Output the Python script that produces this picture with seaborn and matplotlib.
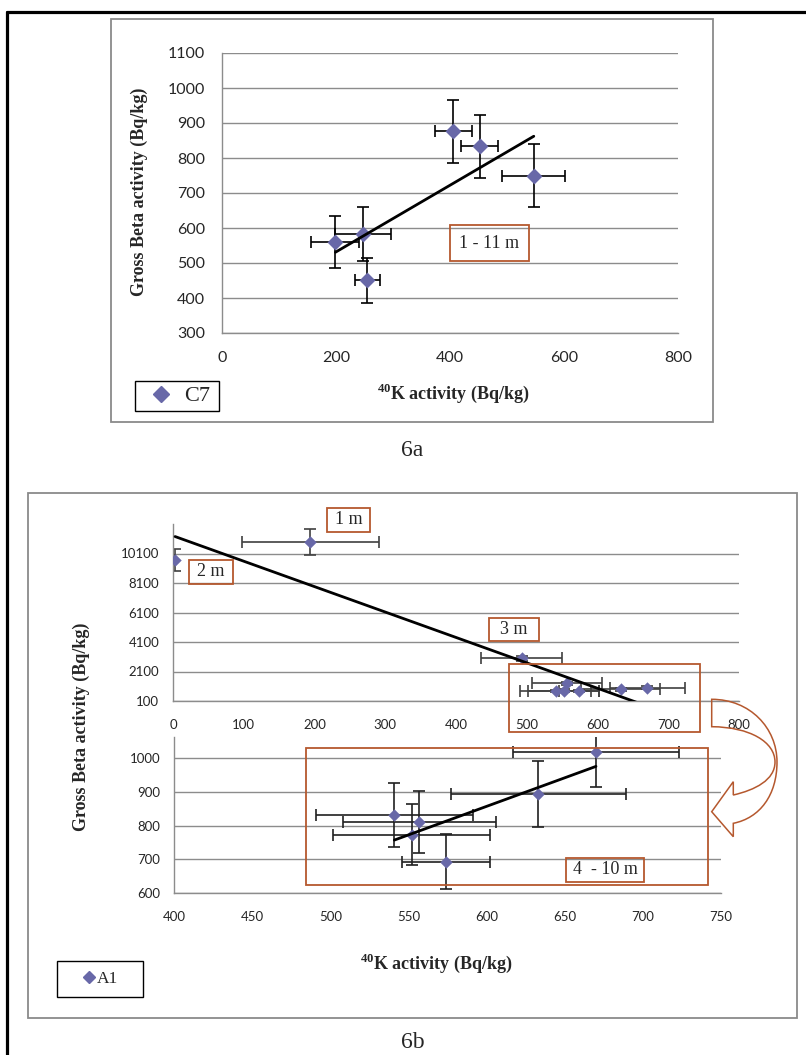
import numpy as np
import pandas as pd
import matplotlib
matplotlib.use("Agg")
import matplotlib.pyplot as plt
import seaborn as sns
from matplotlib.patches import Rectangle, PathPatch
from matplotlib.path import Path
from matplotlib.lines import Line2D

# ---- data ----
# 6a : core C7, 1 - 11 m
c7_k = [199, 247, 255, 406, 452, 547]
c7_beta = [560, 583, 451, 876, 833, 750]
c7_k_err = [42, 49, 22, 32, 33, 55]
c7_beta_err = [75, 78, 64, 91, 91, 89]

# 6b top : core A1, whole profile (1 m, 2 m, 3 m, then 4 - 10 m)
a1_k = [194, 3, 493, 541, 552, 557, 574, 633, 670]
a1_beta = [10890, 9650, 2990, 780, 800, 1300, 760, 880, 1000]
a1_k_err = [97, 0, 57, 50, 50, 49, 28, 56, 53]
a1_beta_err = [900, 750, 150, 95, 90, 92, 82, 97, 103]

# 6b bottom : core A1, 4 - 10 m only
a1d_k = [541, 557, 552, 574, 633, 670]
a1d_beta = [831, 811, 773, 693, 894, 1017]
a1d_k_err = [50, 49, 50, 28, 56, 53]
a1d_beta_err = [95, 92, 90, 82, 97, 103]

W, H = 806, 1055
MARKER = "#6868a8"
GRID = "#8c8c8c"
BOXC = "#b5582e"
LABEL_FONT = dict(family="Liberation Serif", weight="bold", size=13)

sns.set_style("white")
plt.rcParams["font.family"] = ["Liberation Serif", "DejaVu Serif"]
plt.rcParams["mathtext.fontset"] = "custom"
plt.rcParams["mathtext.rm"] = "Liberation Serif"
plt.rcParams["mathtext.bf"] = "Liberation Serif:bold"


def box(l, t, r, b):
    return [l / W, 1 - b / H, (r - l) / W, (b - t) / H]


def fxy(x, y):
    return (x / W, 1 - y / H)


def excel_axes(ax, size, xpad, ypad, tlen):
    ax.grid(axis="y", color=GRID, lw=1)
    ax.grid(axis="x", visible=False)
    ax.set_axisbelow(True)
    for s in ["top", "right"]:
        ax.spines[s].set_visible(False)
    for s in ["left", "bottom"]:
        ax.spines[s].set_color(GRID)
        ax.spines[s].set_linewidth(1)
    ax.tick_params(axis="both", direction="out", length=tlen, width=1, color=GRID)
    ax.tick_params(axis="x", pad=xpad)
    ax.tick_params(axis="y", pad=ypad)
    for lab in ax.get_xticklabels() + ax.get_yticklabels():
        lab.set_fontfamily("Lato")
        lab.set_fontsize(size)
    ax.set_xlabel("")
    ax.set_ylabel("")


def draw_series(ax, df, ecolor, s, label=None):
    ax.errorbar(df["k"], df["beta"], xerr=df["k_err"], yerr=df["beta_err"],
                fmt="none", ecolor=ecolor, elinewidth=1.2, capsize=4,
                capthick=1.2, zorder=2)
    sns.scatterplot(data=df, x="k", y="beta", marker="D", s=s, color=MARKER,
                    edgecolor=MARKER, linewidth=0, zorder=3, ax=ax, label=label)
    sns.regplot(data=df, x="k", y="beta", scatter=False, ci=None, ax=ax,
                line_kws=dict(color="black", lw=2, zorder=4))
    if ax.get_legend() is not None:
        ax.get_legend().remove()


def frame(fig, l, t, r, b, color, lw=1.3, z=5):
    fig.patches.append(Rectangle(fxy(l, b), (r - l) / W, (b - t) / H,
                                 transform=fig.transFigure, fill=False,
                                 edgecolor=color, lw=lw, zorder=z))


def text_box(fig, l, t, r, b, txt, size=13):
    frame(fig, l, t, r, b, BOXC)
    if txt:
        cx, cy = fxy((l + r) / 2, (t + b) / 2)
        fig.text(cx, cy, txt, ha="center", va="center", fontsize=size,
                 family="Liberation Serif", zorder=6)


def legend_box(fig, name, l, t, r, b, x0, ms, size, hl, tp):
    frame(fig, l, t, r, b, "black", lw=1.0)
    h = Line2D([], [], marker="D", ls="none", color=MARKER, ms=ms)
    fig.legend([h], [name], loc="center left",
               bbox_to_anchor=fxy(x0, (t + b) / 2), frameon=False,
               prop=dict(family="Liberation Serif", size=size),
               handlelength=hl, handletextpad=tp, borderpad=0,
               borderaxespad=0)


fig = plt.figure(figsize=(W / 100, H / 100), dpi=100)

# outer page frame and panel frames
fig.add_artist(Line2D([7 / W, 1], [1 - 12 / H] * 2, color="black", lw=2.3,
                      transform=fig.transFigure))
fig.add_artist(Line2D([7 / W] * 2, [1 - 12 / H, 0], color="black", lw=2.3,
                      transform=fig.transFigure))
frame(fig, 111, 19, 713, 422, "#8a8a8a", z=1)
frame(fig, 28, 493, 797, 1018, "#8a8a8a", z=1)

# ---- 6a ----
df_c7 = pd.DataFrame({"k": c7_k, "beta": c7_beta,
                      "k_err": c7_k_err, "beta_err": c7_beta_err})
ax_a = fig.add_axes(box(222, 53, 678, 333))
draw_series(ax_a, df_c7, "black", 66, label="C7")
ax_a.set_xlim(0, 800)
ax_a.set_ylim(300, 1100)
ax_a.set_xticks(range(0, 801, 200))
ax_a.set_yticks(range(300, 1101, 100))
excel_axes(ax_a, 11.5, 9, 8, 4)
legend_box(fig, "C7", 135, 381, 219, 411, 150, 8.5, 16, 1.0, 0.55)
fig.text(*fxy(139, 192), "Gross Beta activity (Bq/kg)", rotation=90,
         ha="center", va="center", **LABEL_FONT)
fig.text(*fxy(453, 393), r"$^{\mathbf{40}}$K activity (Bq/kg)",
         ha="center", va="center", **LABEL_FONT)
text_box(fig, 450, 225, 529, 261, "1 - 11 m")
fig.text(*fxy(412, 451), "6a", ha="center", va="center", fontsize=17,
         family="Liberation Serif")

# ---- 6b top ----
df_a1 = pd.DataFrame({"k": a1_k, "beta": a1_beta,
                      "k_err": a1_k_err, "beta_err": a1_beta_err})
ax_b1 = fig.add_axes(box(173, 524, 739, 701))
draw_series(ax_b1, df_a1, "#404040", 40)
ax_b1.set_xlim(0, 800)
ax_b1.set_ylim(100, 12100)
ax_b1.set_xticks(range(0, 801, 100))
ax_b1.set_yticks(range(100, 10101, 2000))
excel_axes(ax_b1, 9.5, 9, 6, 4)

# ---- 6b bottom ----
df_a1d = pd.DataFrame({"k": a1d_k, "beta": a1d_beta,
                       "k_err": a1d_k_err, "beta_err": a1d_beta_err})
ax_b2 = fig.add_axes(box(174, 737, 721, 893))
draw_series(ax_b2, df_a1d, "#202020", 40)
ax_b2.set_xlim(400, 750)
ax_b2.set_ylim(600, 1063)
ax_b2.set_xticks(range(400, 751, 50))
ax_b2.set_yticks(range(600, 1001, 100))
excel_axes(ax_b2, 9.5, 9, 6, 4)

fig.text(*fxy(81, 727), "Gross Beta activity (Bq/kg)", rotation=90,
         ha="center", va="center", **LABEL_FONT)
fig.text(*fxy(436, 963), r"$^{\mathbf{40}}$K activity (Bq/kg)",
         ha="center", va="center", **LABEL_FONT)
legend_box(fig, "A1", 57, 961, 143, 997, 82, 6.5, 12.5, 0.8, 0.05)

text_box(fig, 327, 508, 370, 532, "1 m")
text_box(fig, 189, 560, 233, 584, "2 m")
text_box(fig, 489, 618, 539, 641, "3 m")
text_box(fig, 509, 664, 700, 732, "")
text_box(fig, 306, 748, 708, 885, "")
text_box(fig, 566, 858, 644, 882, "4  - 10 m")

# curved arrow from the zoomed box to the lower chart
pts = [(711.7, 699.3), (750, 699.3), (777, 728), (777, 762),
       (777, 795), (760, 818), (733.3, 823.3),
       (733.3, 836.7), (711.7, 811.7), (733.3, 781.7), (733.3, 795),
       (755, 790), (775, 780), (775, 762),
       (775, 742), (750, 727), (711.7, 726.7),
       (711.7, 699.3)]
codes = ([Path.MOVETO] + [Path.CURVE4] * 6 + [Path.LINETO] * 4
         + [Path.CURVE4] * 6 + [Path.CLOSEPOLY])
arrow = Path([fxy(x, y) for x, y in pts], codes)
fig.patches.append(PathPatch(arrow, transform=fig.transFigure,
                             facecolor="none", edgecolor=BOXC, lw=1.1, zorder=5))

fig.text(*fxy(413, 1043), "6b", ha="center", va="center", fontsize=17,
         family="Liberation Serif")

fig.savefig("out.png", dpi=100)
